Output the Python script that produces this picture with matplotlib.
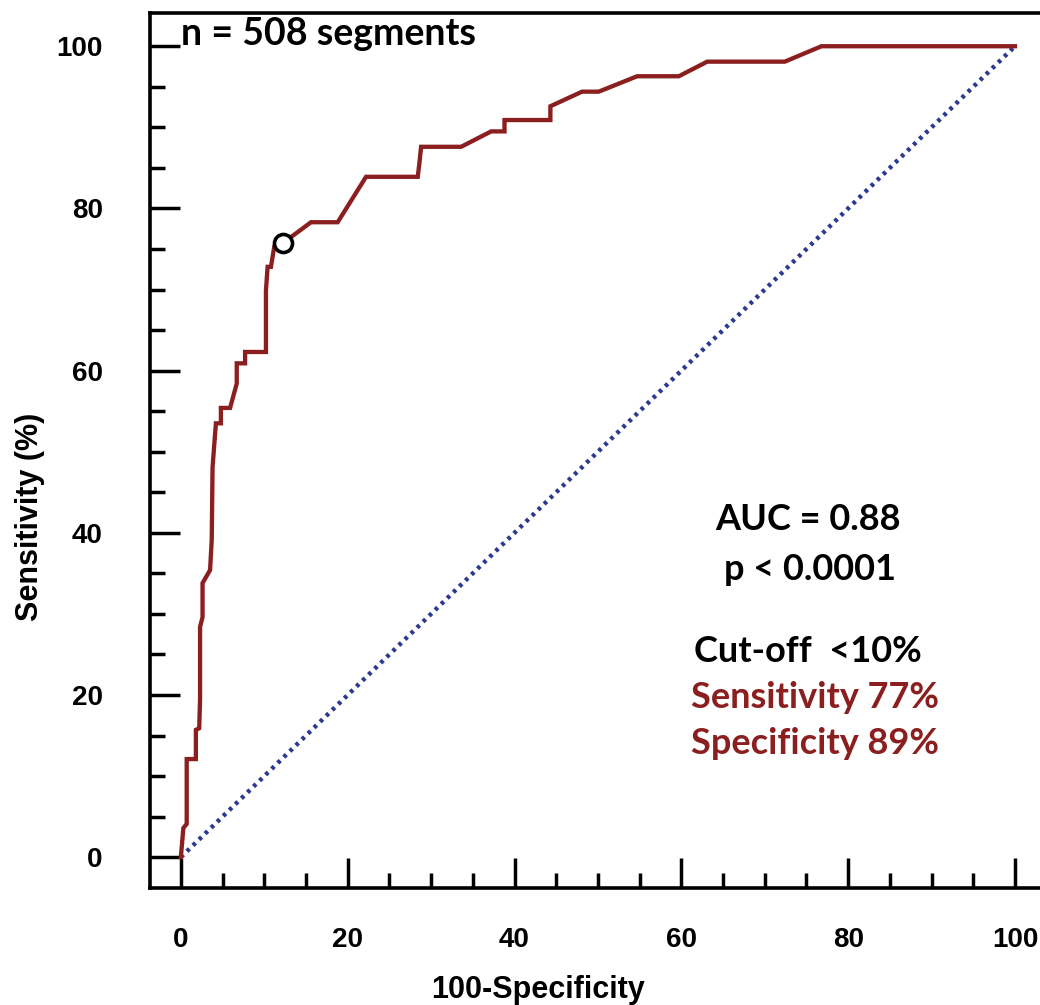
import matplotlib.pyplot as plt
from matplotlib.ticker import MultipleLocator

# ROC curve (100-specificity, sensitivity)
fpr = [0, 0.3, 0.7, 0.7, 1.8, 1.8, 2.2, 2.3, 2.3, 2.6, 2.6, 3.5, 3.7, 3.8,
       4.2, 4.8, 4.8, 5.9, 6.7, 6.7, 7.7, 7.7, 10.2, 10.2, 10.4, 10.8, 11.2,
       12.2, 15.6, 18.8, 22.2, 28.4, 28.6, 28.8, 33.6, 37.2, 38.8, 38.8,
       44.3, 44.3, 48.1, 50.1, 54.7, 59.7, 63.1, 72.4, 76.8, 100]
tpr = [0, 3.6, 4.1, 12.1, 12.1, 15.7, 15.9, 19.4, 28.4, 29.6, 33.8, 35.4,
       39.1, 48.1, 53.5, 53.5, 55.4, 55.4, 58.4, 60.9, 60.9, 62.3, 62.3,
       69.9, 72.8, 72.8, 75.3, 75.7, 78.3, 78.3, 83.9, 83.9, 85.6, 87.6,
       87.6, 89.5, 89.5, 90.9, 90.9, 92.6, 94.4, 94.4, 96.3, 96.3, 98.1,
       98.1, 100, 100]
cutoff_point = (12.2, 75.7)
chance = [0, 100]

RED = "#8b1f1f"
BLUE = "#2b3a8f"

W, H = 1040, 1005
fig = plt.figure(figsize=(W / 100, H / 100), dpi=100)

def fx(px):
    return px / W

def fy(py):
    return 1 - py / H

ax = fig.add_axes([fx(150), fy(888), fx(1045) - fx(150), fy(13) - fy(888)])
ax.set_xlim(-3.7, 103.6)
ax.set_ylim(-3.8, 104.1)

ax.plot(chance, chance, color=BLUE, lw=3.2, ls=(0, (0.8, 1.1)),
        dash_capstyle="butt", zorder=2)
ax.plot(fpr, tpr, color=RED, lw=3.1, solid_joinstyle="miter", zorder=3)
ax.plot(*cutoff_point, "o", ms=13, mfc="white", mec="black", mew=2.6, zorder=4)

for s in ["left", "bottom", "top"]:
    ax.spines[s].set_linewidth(2.6)
ax.spines["right"].set_visible(False)

ax.xaxis.set_major_locator(MultipleLocator(20))
ax.xaxis.set_minor_locator(MultipleLocator(5))
ax.yaxis.set_major_locator(MultipleLocator(20))
ax.yaxis.set_minor_locator(MultipleLocator(5))
ax.tick_params(which="both", direction="in", width=2.5, top=False, right=False)
ax.tick_params(which="major", length=21.5)
ax.tick_params(which="minor", length=10.5)
ax.tick_params(axis="x", which="major", pad=28)
ax.tick_params(axis="y", which="major", pad=34)
for lab in ax.get_xticklabels() + ax.get_yticklabels():
    lab.set_fontfamily("Liberation Sans")
    lab.set_fontweight("bold")
    lab.set_fontsize(20)

fig.text(fx(538), fy(990), "100-Specificity", ha="center", va="center",
         family="Liberation Sans", weight="bold", fontsize=22)
fig.text(fx(30), fy(517), "Sensitivity (%)", ha="center", va="center",
         rotation=90, family="Liberation Sans", weight="bold", fontsize=22)

tkw = dict(ha="center", va="center", family="Lato", weight="bold", fontsize=26)
fig.text(fx(181), fy(34), "n = 508 segments", ha="left", va="center",
         family="Lato", weight="bold", fontsize=27)
fig.text(fx(808), fy(519), "AUC = 0.88", color="black", **tkw)
fig.text(fx(810), fy(569), "p < 0.0001", color="black", **tkw)
fig.text(fx(808), fy(651), "Cut-off  <10%", color="black", **tkw)
fig.text(fx(815), fy(697), "Sensitivity 77%", color=RED, **tkw)
fig.text(fx(815), fy(744), "Specificity 89%", color=RED, **tkw)

fig.savefig("out.png", dpi=100)
